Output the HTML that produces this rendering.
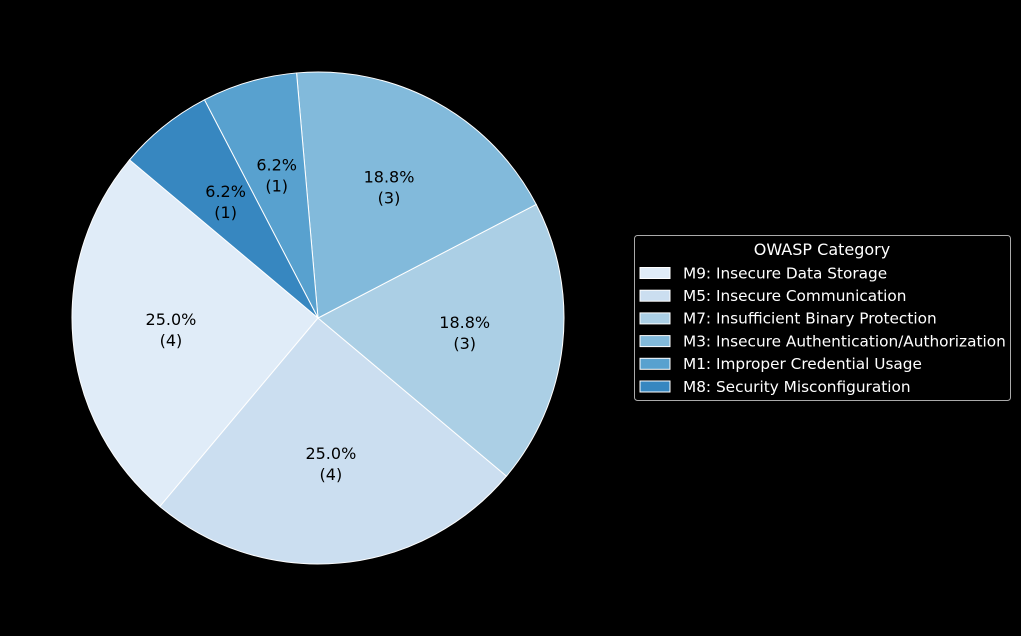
<!DOCTYPE html>
<html><head><meta charset="utf-8"><style>
html,body{margin:0;padding:0;background:#000;}
svg{display:block;font-family:"DejaVu Sans","Liberation Sans",sans-serif;}
</style></head><body>
<svg id="chart" width="1021" height="636" viewBox="0 0 1021 636">
<rect width="1021" height="636" fill="#000"/>
<g id="slices"></g>
<g id="labels"></g>
<g id="legend">
<rect x="634.5" y="235.5" width="376" height="165" rx="3" fill="#000" stroke="#aaa" stroke-width="1"/>
<text x="822" y="255" fill="#fff" font-size="16" text-anchor="middle">OWASP Category</text>
</g>
</svg>
<script>
const categories=["M9: Insecure Data Storage","M5: Insecure Communication","M7: Insufficient Binary Protection","M3: Insecure Authentication/Authorization","M1: Improper Credential Usage","M8: Security Misconfiguration"];
const counts=[4,4,3,3,1,1];
const colors=["#e0ecf8","#cbdef0","#abcfe5","#82badb","#58a1cf","#3787c0"];
const startAngle=140;
const cx=318,cy=318,r=246;
const NS="http://www.w3.org/2000/svg";
const total=counts.reduce((a,b)=>a+b,0);
function fmtPct(p){const x=p*10;const f=Math.floor(x);let n;if(Math.abs(x-f-0.5)<1e-9){n=(f%2===0)?f:f+1;}else{n=Math.round(x);}return (n/10).toFixed(1)+'%';}
const sg=document.getElementById('slices'),lg=document.getElementById('labels'),leg=document.getElementById('legend');
function pt(a,rad){const t=a*Math.PI/180;return [cx+rad*Math.cos(t),cy-rad*Math.sin(t)];}
let a0=startAngle;
counts.forEach((v,i)=>{
  const sweep=v/total*360,a1=a0+sweep;
  const p0=pt(a0,r),p1=pt(a1,r);
  const path=document.createElementNS(NS,'path');
  path.setAttribute('d',`M${cx},${cy} L${p0[0]},${p0[1]} A${r},${r} 0 ${sweep>180?1:0} 0 ${p1[0]},${p1[1]} Z`);
  path.setAttribute('fill',colors[i]);path.setAttribute('stroke','#fff');path.setAttribute('stroke-width','1');
  
  
  sg.appendChild(path);
  const m=pt((a0+a1)/2,r*0.6);
  const t=document.createElementNS(NS,'text');
  t.setAttribute('x',m[0]);t.setAttribute('y',m[1]-6);t.setAttribute('font-size','16');t.setAttribute('text-anchor','middle');t.setAttribute('fill','#000');
  
  
  const s1=document.createElementNS(NS,'tspan');s1.setAttribute('x',m[0]);s1.textContent=fmtPct(v/total*100);
  const s2=document.createElementNS(NS,'tspan');s2.setAttribute('x',m[0]);s2.setAttribute('dy','21');s2.textContent='('+v+')';
  t.appendChild(s1);t.appendChild(s2);lg.appendChild(t);
  a0=a1;
  const y=273+i*22.7;
  const sw=document.createElementNS(NS,'rect');
  sw.setAttribute('x',640);sw.setAttribute('y',y-5.5);sw.setAttribute('width',30);sw.setAttribute('height',11);
  sw.setAttribute('fill',colors[i]);sw.setAttribute('stroke','#fff');sw.setAttribute('stroke-width','1');
  
  
  leg.appendChild(sw);
  const lt=document.createElementNS(NS,'text');
  lt.setAttribute('x',683);lt.setAttribute('y',y+5.3);lt.setAttribute('font-size','15.3');lt.setAttribute('fill','#fff');
  
  
  lt.textContent=categories[i];leg.appendChild(lt);
});
</script>
</body></html>
